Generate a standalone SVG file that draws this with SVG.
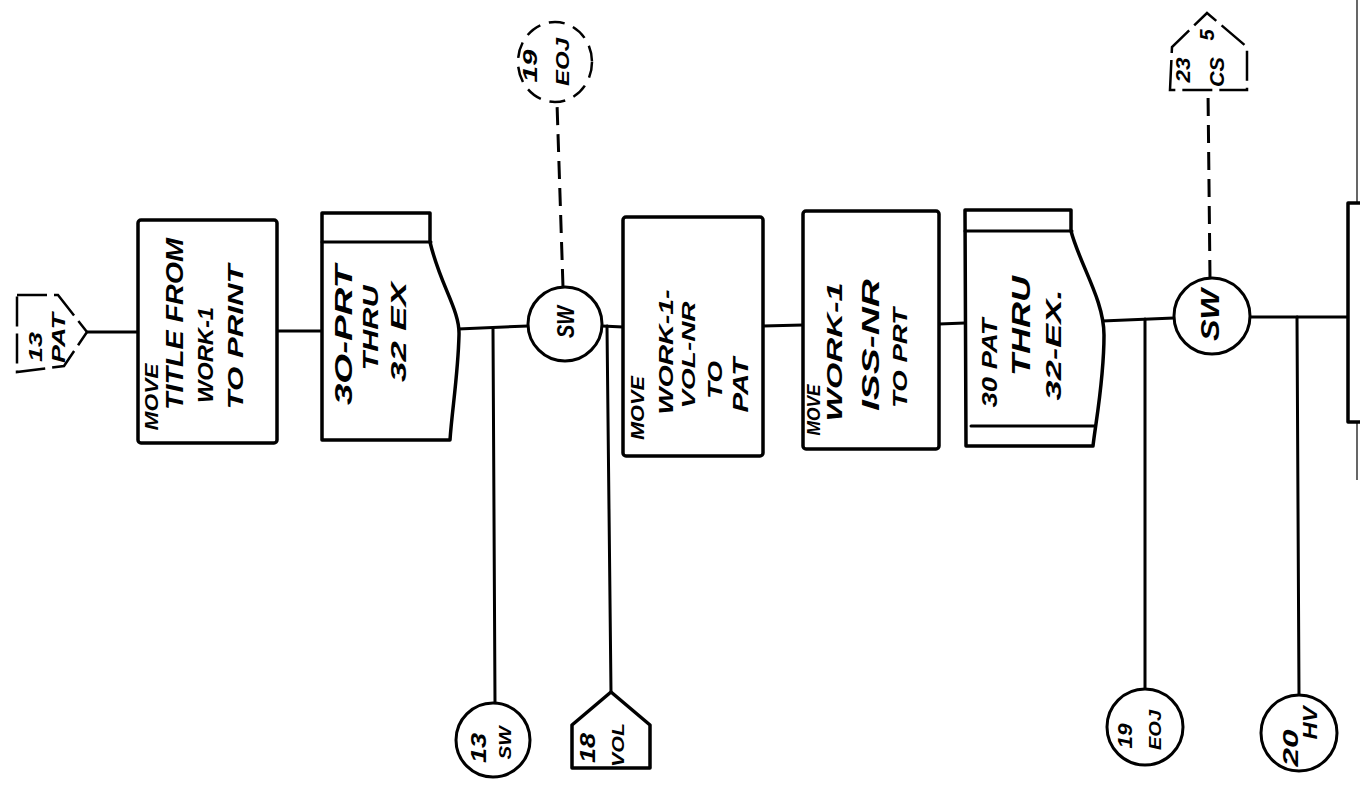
<svg xmlns="http://www.w3.org/2000/svg" width="1360" height="794" viewBox="0 0 1360 794">
<style>
.bx{fill:#fff;stroke:#000;stroke-width:3.5;stroke-linejoin:round}
.ln{fill:none;stroke:#000;stroke-width:3;stroke-linecap:round}
.cr{fill:#fff;stroke:#000;stroke-width:3}
.ds{fill:none;stroke:#000;stroke-width:3;stroke-dasharray:18 9}
.dc{fill:none;stroke:#000;stroke-width:2.5;stroke-dasharray:30 7}
.t{font-family:"Liberation Sans",Arial,sans-serif;font-weight:bold;font-style:italic;fill:#000;text-anchor:middle}
</style>
<rect width="1360" height="794" fill="#fff"/>
<g id="connectors">
<path class="ln" d="M87,332 L138,332"/>
<path class="ln" d="M277,331 L322,331"/>
<path class="ln" d="M458,329 L528,326"/>
<path class="ln" d="M493,329 L495,702"/>
<path class="ln" d="M602,326 L623,327"/>
<path class="ln" d="M607,326 L611,692"/>
<path class="ln" d="M763,326 L803,325"/>
<path class="ln" d="M939,324 L965,323"/>
<path class="ln" d="M1102,321 L1174,318"/>
<path class="ln" d="M1145,319 L1145,689"/>
<path class="ln" d="M1250,317 L1348,317"/>
<path class="ln" d="M1297,317 L1299,695"/>
<path class="ds" d="M563,287 L557,103"/>
<path class="ds" d="M1210,278 L1208,90"/>
<path d="M1357,0 L1357,480" stroke="#000" stroke-width="1.2" fill="none"/>
</g>
<g id="n13pat">
<path class="dc" d="M17,295 L58,295 L87,332 L64,366 L17,372 Z"/>
<text class="t" font-size="18" textLength="30" lengthAdjust="spacingAndGlyphs" transform="translate(41.5,347) rotate(-90)">13</text>
<text class="t" font-size="18" textLength="50" lengthAdjust="spacingAndGlyphs" transform="translate(64.5,338) rotate(-90)">PAT</text>
</g>
<g id="box1">
<rect class="bx" x="138" y="220" width="139" height="223" rx="3"/>
<text class="t" font-size="18" textLength="67" lengthAdjust="spacingAndGlyphs" transform="translate(158,397) rotate(-90)">MOVE</text>
<text class="t" font-size="24" textLength="172" lengthAdjust="spacingAndGlyphs" transform="translate(182.6,324) rotate(-90)">TITLE FROM</text>
<text class="t" font-size="22" textLength="96" lengthAdjust="spacingAndGlyphs" transform="translate(213,355) rotate(-90)">WORK-1</text>
<text class="t" font-size="22" textLength="145" lengthAdjust="spacingAndGlyphs" transform="translate(243,337) rotate(-90)">TO PRINT</text>
</g>
<g id="box2">
<path class="bx" d="M322,213 H430 V242 C440,285 460,310 459,335 C458,375 452,410 450,440 H322 Z"/>
<path class="ln" d="M322,242 H431"/>
<text class="t" font-size="24" textLength="140" lengthAdjust="spacingAndGlyphs" transform="translate(351.6,335) rotate(-90)">3O-PRT</text>
<text class="t" font-size="22" textLength="85" lengthAdjust="spacingAndGlyphs" transform="translate(378,328) rotate(-90)">THRU</text>
<text class="t" font-size="22" textLength="100" lengthAdjust="spacingAndGlyphs" transform="translate(406,332) rotate(-90)">32 EX</text>
</g>
<g id="sw1">
<circle class="cr" cx="565" cy="324" r="37"/>
<text class="t" font-size="24" textLength="32" lengthAdjust="spacingAndGlyphs" transform="translate(573.6,322) rotate(-90)">SW</text>
</g>
<g id="eoj19top">
<ellipse cx="555" cy="62" rx="37" ry="40" fill="none" stroke="#000" stroke-width="2.5" stroke-dasharray="16 9"/>
<text class="t" font-size="20" textLength="33" lengthAdjust="spacingAndGlyphs" transform="translate(537,66) rotate(-90)">19</text>
<text class="t" font-size="18" textLength="48" lengthAdjust="spacingAndGlyphs" transform="translate(568.5,62) rotate(-90)">EOJ</text>
</g>
<g id="box3">
<rect class="bx" x="623" y="217" width="140" height="239" rx="3"/>
<text class="t" font-size="18" textLength="64" lengthAdjust="spacingAndGlyphs" transform="translate(644,408) rotate(-90)">MOVE</text>
<text class="t" font-size="20" textLength="125" lengthAdjust="spacingAndGlyphs" transform="translate(673,352) rotate(-90)">WORK-1-</text>
<text class="t" font-size="18" textLength="107" lengthAdjust="spacingAndGlyphs" transform="translate(694.5,355) rotate(-90)">VOL-NR</text>
<text class="t" font-size="20" textLength="38" lengthAdjust="spacingAndGlyphs" transform="translate(722,380) rotate(-90)">TO</text>
<text class="t" font-size="22" textLength="55" lengthAdjust="spacingAndGlyphs" transform="translate(748,385) rotate(-90)">PAT</text>
</g>
<g id="box4">
<rect class="bx" x="803" y="211" width="136" height="238" rx="3"/>
<text class="t" font-size="18" textLength="51" lengthAdjust="spacingAndGlyphs" transform="translate(820,410) rotate(-90)">MOVE</text>
<text class="t" font-size="22" textLength="139" lengthAdjust="spacingAndGlyphs" transform="translate(842,352) rotate(-90)">WORK-1</text>
<text class="t" font-size="24" textLength="132" lengthAdjust="spacingAndGlyphs" transform="translate(878.6,345) rotate(-90)">ISS-NR</text>
<text class="t" font-size="20" textLength="100" lengthAdjust="spacingAndGlyphs" transform="translate(907,358) rotate(-90)">TO PRT</text>
</g>
<g id="box5">
<path class="bx" d="M965,210 H1071 V231 C1080,265 1104,300 1104,335 C1104,380 1096,420 1093,446 H966 Z"/>
<path class="ln" d="M965,231 H1072"/>
<path class="ln" d="M971,426 H1095"/>
<text class="t" font-size="22" textLength="89" lengthAdjust="spacingAndGlyphs" transform="translate(997,363) rotate(-90)">30 PAT</text>
<text class="t" font-size="26" textLength="100" lengthAdjust="spacingAndGlyphs" transform="translate(1030,326) rotate(-90)">THRU</text>
<text class="t" font-size="22" textLength="111" lengthAdjust="spacingAndGlyphs" transform="translate(1061,345) rotate(-90)">32-EX.</text>
</g>
<g id="sw2">
<circle class="cr" cx="1212" cy="316" r="38"/>
<text class="t" font-size="26" textLength="52" lengthAdjust="spacingAndGlyphs" transform="translate(1219,315) rotate(-90)">SW</text>
</g>
<g id="cs23">
<path class="dc" d="M1170,90 L1172,47 L1207,13 L1247,47 L1247,90 Z"/>
<text class="t" font-size="20" textLength="25" lengthAdjust="spacingAndGlyphs" transform="translate(1190,70) rotate(-90)">23</text>
<text class="t" font-size="20" textLength="30" lengthAdjust="spacingAndGlyphs" transform="translate(1224,72) rotate(-90)">CS</text>
<text class="t" font-size="20" transform="translate(1214,35) rotate(-90)">5</text>
</g>
<g id="boxRight">
<path class="bx" d="M1365,203 H1348 V422 H1365"/>
</g>
<g id="sw13">
<circle class="cr" cx="493" cy="740" r="37"/>
<text class="t" font-size="22" textLength="30" lengthAdjust="spacingAndGlyphs" transform="translate(486,748) rotate(-90)">13</text>
<text class="t" font-size="16" textLength="33" lengthAdjust="spacingAndGlyphs" transform="translate(511,743) rotate(-90)">SW</text>
</g>
<g id="vol18">
<path class="bx" d="M611,692 L650,725 L650,768 L572,768 L572,725 Z"/>
<text class="t" font-size="22" textLength="30" lengthAdjust="spacingAndGlyphs" transform="translate(595,748) rotate(-90)">18</text>
<text class="t" font-size="16" textLength="44" lengthAdjust="spacingAndGlyphs" transform="translate(624,745) rotate(-90)">VOL</text>
</g>
<g id="eoj19">
<circle class="cr" cx="1145" cy="727" r="38"/>
<text class="t" font-size="20" textLength="25" lengthAdjust="spacingAndGlyphs" transform="translate(1132,736) rotate(-90)">19</text>
<text class="t" font-size="16" textLength="40" lengthAdjust="spacingAndGlyphs" transform="translate(1161,730) rotate(-90)">EOJ</text>
</g>
<g id="hv20">
<circle class="cr" cx="1299" cy="733" r="38"/>
<text class="t" font-size="22" textLength="37" lengthAdjust="spacingAndGlyphs" transform="translate(1298,748) rotate(-90)">20</text>
<text class="t" font-size="20" textLength="33" lengthAdjust="spacingAndGlyphs" transform="translate(1317,723) rotate(-90)">HV</text>
</g>
</svg>
